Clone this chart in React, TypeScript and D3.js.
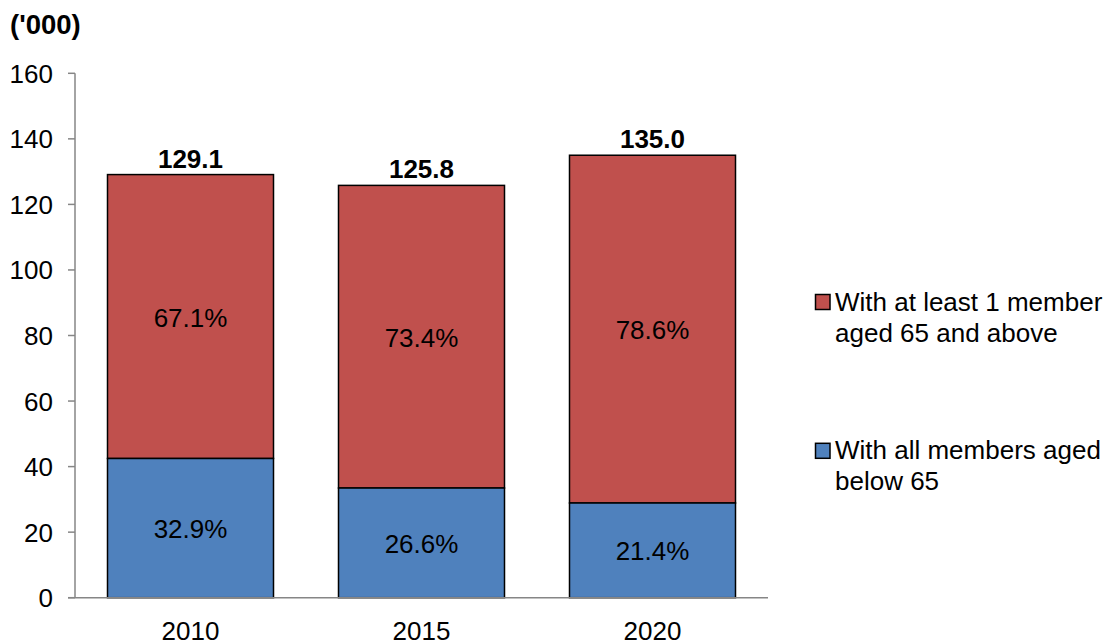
import React from "react";
import * as d3 from "d3";

const categories = ["2010", "2015", "2020"];
const totals = [129.1, 125.8, 135.0];
const belowShare = [32.9, 26.6, 21.4];
const aboveShare = [67.1, 73.4, 78.6];
const yTicks = [0, 20, 40, 60, 80, 100, 120, 140, 160];
const seriesNames = ["With at least 1 member|aged 65 and above", "With all members aged|below 65"];

const W = 1111, H = 641;
const FONT = "'Liberation Sans', Arial, sans-serif";
const RED = "#C0504D", BLUE = "#4F81BD", AXIS = "#868686";
const FS = 26;

export default function App() {
  const x = d3.scaleBand<string>().domain(categories).range([75, 768]).paddingInner(65 / 231).paddingOuter(32.5 / 231);
  const y = d3.scaleLinear().domain([0, 160]).range([597.7, 73.3]);
  const below = totals.map((t, i) => (t * belowShare[i]) / 100);

  return (
    <svg width={W} height={H} style={{ position: "absolute", left: 0, top: 0 }} fontFamily={FONT}>
      <rect width={W} height={H} fill="#fff" />
      <text x={10} y={34} fontSize={27.5} fontWeight="bold" fill="#000">('000)</text>
      {yTicks.map((t) => (
        <g key={t}>
          <line x1={68} x2={75} y1={y(t)} y2={y(t)} stroke={AXIS} strokeWidth={1.5} />
          <text x={53} y={y(t) + 9.5} fontSize={FS} textAnchor="end" fill="#000">{t}</text>
        </g>
      ))}
      {categories.map((c, i) => {
        const x0 = x(c)!;
        const bw = x.bandwidth();
        const b = below[i];
        const t = totals[i];
        return (
          <g key={c}>
            <rect x={x0} y={y(t)} width={bw} height={y(b) - y(t)} fill={RED} stroke="#000" strokeWidth={1.5} />
            <rect x={x0} y={y(b)} width={bw} height={y(0) - y(b)} fill={BLUE} stroke="#000" strokeWidth={1.5} />
            <text x={x0 + bw / 2} y={(y(b) + y(t)) / 2 + 10} fontSize={FS} textAnchor="middle" fill="#000">{aboveShare[i].toFixed(1)}%</text>
            <text x={x0 + bw / 2} y={(y(0) + y(b)) / 2 + 10} fontSize={FS} textAnchor="middle" fill="#000">{belowShare[i].toFixed(1)}%</text>
            <text x={x0 + bw / 2} y={y(t) - 7} fontSize={FS} fontWeight="bold" textAnchor="middle" fill="#000">{t.toFixed(1)}</text>
            <text x={x0 + bw / 2} y={640} fontSize={FS} textAnchor="middle" fill="#000">{c}</text>
          </g>
        );
      })}
      <line x1={75} x2={75} y1={y(160)} y2={y(0)} stroke={AXIS} strokeWidth={1.5} />
      <line x1={68} x2={768} y1={y(0)} y2={y(0)} stroke={AXIS} strokeWidth={1.5} />
      {seriesNames.map((name, k) => {
        const base = k === 0 ? 310.5 : 459.3;
        const lines = name.split("|");
        return (
          <g key={name}>
            <rect x={815.5} y={base - 16} width={14.5} height={15} fill={k === 0 ? RED : BLUE} stroke="#000" strokeWidth={1.5} />
            {lines.map((l, j) => (
              <text key={j} x={835} y={base + j * 31} fontSize={FS} fill="#000">{l}</text>
            ))}
          </g>
        );
      })}
    </svg>
  );
}
